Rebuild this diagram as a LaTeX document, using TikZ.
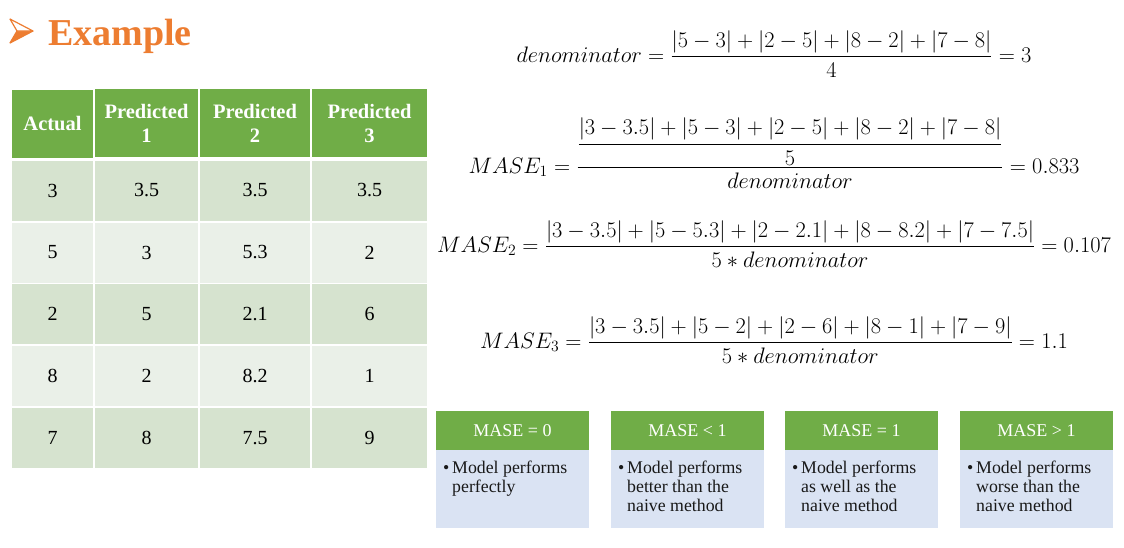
\RequirePackage{fix-cm}
\documentclass[tikz,border=0pt]{standalone}
\usepackage{amsmath}
\usepackage[no-math]{fontspec}
\setmainfont{Liberation Serif}
\definecolor{hgreen}{HTML}{70AD47}
\definecolor{bandA}{HTML}{D6E3CF}
\definecolor{bandB}{HTML}{EAF0E8}
\definecolor{bodyblue}{HTML}{DAE3F3}
\definecolor{titleorange}{HTML}{ED7D31}
\newcommand\maserow[7]{%
  \node[dcell,fill=#3,minimum width=81pt]  (r#1c1) at (52.5,#2) {#4};
  \node[dcell,fill=#3,minimum width=103pt] (r#1c2) at (146.5,#2) {#5};
  \node[dcell,fill=#3,minimum width=110pt] (r#1c3) at (255,#2) {#6};
  \node[dcell,fill=#3,minimum width=115pt] (r#1c4) at (369.5,#2) {#7};}
\newcommand\mfont{\fontsize{22.4}{27}\selectfont}
\begin{document}
\begin{tikzpicture}[x=1pt,y=-1pt,
  hcell/.style={fill=hgreen,text=white,font=\bfseries\fontsize{20.5}{24}\selectfont,align=center,minimum height=68pt,inner sep=0pt},
  dcell/.style={font=\fontsize{20}{24}\selectfont,minimum height=60pt,inner sep=0pt},
  boxhead/.style={fill=hgreen,text=white,font=\fontsize{18}{20}\selectfont,minimum width=153pt,minimum height=39pt,inner sep=0pt},
  boxbody/.style={fill=bodyblue,minimum width=153pt,minimum height=78pt,inner sep=0pt},
  boxtext/.style={font=\fontsize{17.8}{19.2}\selectfont,align=left,inner sep=0pt,anchor=north west,text=black!90},
  formula/.style={font=\mfont,anchor=base,inner sep=0pt}]
\useasboundingbox[fill=white] (0,0) rectangle (1124,547);

% title
\fill[titleorange] (33,31) -- (10,43) -- (17,31) -- cycle;
\filldraw[draw=titleorange,fill=white,line width=1.2pt,line join=round] (33,31) -- (10,19) -- (17,31) -- cycle;
\draw[titleorange,line width=1.2pt,line join=round] (33,31) -- (10,43) -- (17,31);
\node[anchor=base west,inner sep=0pt,text=titleorange,font=\bfseries\fontsize{38}{44}\selectfont] (title) at (48,45) {Example};

% table header
\node[hcell,minimum width=81pt]  (h1) at (52.5,124) {Actual};
\node[hcell,minimum width=103pt] (h2) at (146.5,123) {Predicted\\1};
\node[hcell,minimum width=110pt] (h3) at (255,123) {Predicted\\2};
\node[hcell,minimum width=115pt] (h4) at (369.5,123) {Predicted\\3};
% table body
\maserow{1}{190.5}{bandA}{3}{3.5}{3.5}{3.5}
\maserow{2}{252.5}{bandB}{5}{3}{5.3}{2}
\maserow{3}{314}{bandA}{2}{5}{2.1}{6}
\maserow{4}{376}{bandB}{8}{2}{8.2}{1}
\maserow{5}{438}{bandA}{7}{8}{7.5}{9}

% formulas
\node[formula] (eqd) at (774,62.5) {$\displaystyle denominator=\frac{|5-3|+|2-5|+|8-2|+|7-8|}{4}=3$};
\node[formula] (eqa) at (774,173.5) {$\displaystyle MASE_1=\frac{\dfrac{|3-3.5|+|5-3|+|2-5|+|8-2|+|7-8|}{5}}{denominator}=0.833$};
\node[formula] (eqb) at (774,252.5) {$\displaystyle MASE_2=\frac{|3-3.5|+|5-5.3|+|2-2.1|+|8-8.2|+|7-7.5|}{5\ast denominator}=0.107$};
\node[formula] (eqc) at (774,348.5) {$\displaystyle MASE_3=\frac{|3-3.5|+|5-2|+|2-6|+|8-1|+|7-9|}{5\ast denominator}=1.1$};

% bottom boxes
\node[boxhead] (bh1) at (512.5,430.5) {MASE = 0};
\node[boxhead] (bh2) at (687.5,430.5) {MASE < 1};
\node[boxhead] (bh3) at (861.5,430.5) {MASE = 1};
\node[boxhead] (bh4) at (1036.5,430.5) {MASE > 1};
\node[boxbody] (bb1) at (512.5,489) {};
\node[boxbody] (bb2) at (687.5,489) {};
\node[boxbody] (bb3) at (861.5,489) {};
\node[boxbody] (bb4) at (1036.5,489) {};
\node[boxtext] (bt1) at ([xshift=7pt,yshift=-11pt]bb1.north west) {•\,Model performs\\\phantom{•\,}perfectly};
\node[boxtext] (bt2) at ([xshift=7pt,yshift=-11pt]bb2.north west) {•\,Model performs\\\phantom{•\,}better than the\\\phantom{•\,}naive method};
\node[boxtext] (bt3) at ([xshift=7pt,yshift=-11pt]bb3.north west) {•\,Model performs\\\phantom{•\,}as well as the\\\phantom{•\,}naive method};
\node[boxtext] (bt4) at ([xshift=7pt,yshift=-11pt]bb4.north west) {•\,Model performs\\\phantom{•\,}worse than the\\\phantom{•\,}naive method};
\end{tikzpicture}
\end{document}
